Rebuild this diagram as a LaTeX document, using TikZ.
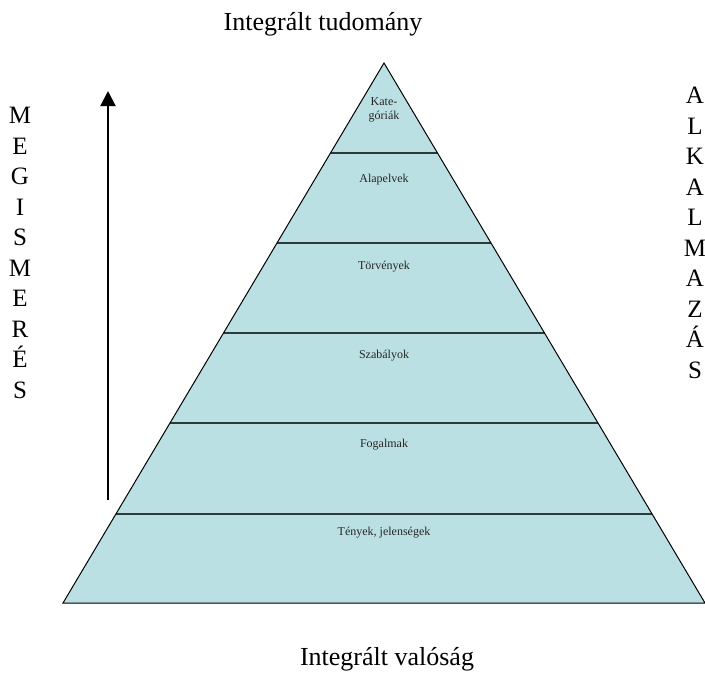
\documentclass[tikz,border=0pt]{standalone}
\usepackage{fontspec}
\setmainfont{Liberation Serif}
\usetikzlibrary{calc,arrows.meta}
\definecolor{pyrfill}{RGB}{187,224,227}
\definecolor{sepline}{RGB}{45,58,58}
\begin{document}
\begin{tikzpicture}[x=1pt,y=-1pt,
  lvl/.style={font=\fontsize{12}{14.5}\selectfont, align=center, text=black!85, inner sep=0pt},
  big/.style={font=\fontsize{26}{30}\selectfont, inner sep=0pt},
  vlet/.style={font=\fontsize{25}{30.5}\selectfont, align=center, inner sep=0pt},
  sep/.style={sepline, line width=2.5pt}]
\useasboundingbox (0,0) rectangle (705,673);
\coordinate (apex) at (384,63);
\coordinate (bl) at (63,603);
\coordinate (br) at (705,603);
\fill[pyrfill] (apex) -- (bl) -- (br) -- cycle;
\foreach \y in {153,243,333,423,514}{
  \pgfmathsetmacro\t{(\y-63)/540}
  \draw[sep] ($(apex)!\t!(bl)$) -- ($(apex)!\t!(br)$);
}
\draw[line width=1pt] (apex) -- (bl) -- (br) -- cycle;

\node[lvl] (kat) at (384,110) {Kate-\\góriák};
\node[lvl] (alap) at (384,180) {Alapelvek};
\node[lvl] (torv) at (384,267) {Törvények};
\node[lvl] (szab) at (384,356) {Szabályok};
\node[lvl] (fog) at (384,445) {Fogalmak};
\node[lvl] (teny) at (384,533) {Tények, jelenségek};

\node[big, anchor=base] (top) at (323,30) {Integrált tudomány};
\node[big, anchor=base] (bot) at (387,665) {Integrált valóság};

\node[vlet] (meg) at (20,253) {M\\E\\G\\I\\S\\M\\E\\R\\É\\S};
\node[vlet] (alk) at (695,233) {A\\L\\K\\A\\L\\M\\A\\Z\\Á\\S};

\coordinate (arrS) at (108,500);
\coordinate (arrE) at (108,91);
\draw[line width=2pt, -{Triangle[width=15pt,length=15pt]}] (arrS) -- (arrE);
\end{tikzpicture}
\end{document}
